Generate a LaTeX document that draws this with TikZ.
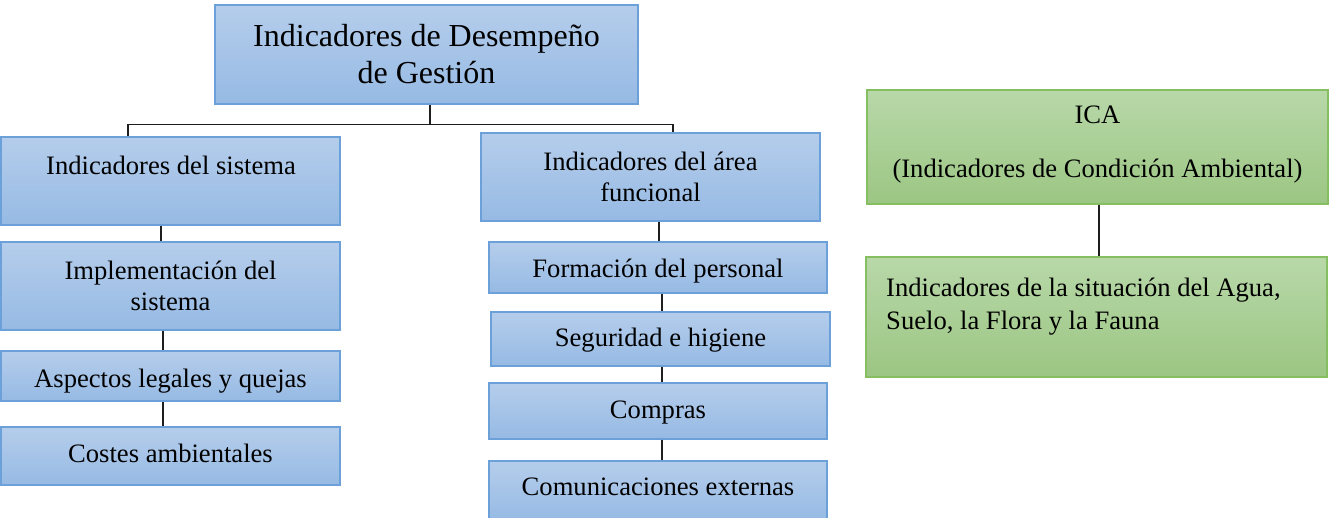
\documentclass[tikz,border=0pt]{standalone}
\usepackage{fontspec}
\setmainfont{Liberation Serif}
\definecolor{bTop}{RGB}{181,205,235}
\definecolor{bBot}{RGB}{150,186,228}
\definecolor{bLine}{RGB}{108,160,216}
\definecolor{gTop}{RGB}{184,216,169}
\definecolor{gBot}{RGB}{156,198,131}
\definecolor{gLine}{RGB}{134,190,98}
\definecolor{cLine}{RGB}{30,30,30}
\begin{document}
\begin{tikzpicture}[x=1pt,y=-1pt,
  bbox/.style={rectangle, draw=bLine, line width=1.2pt, top color=bTop, bottom color=bBot,
     inner sep=0pt, align=center, font=\fontsize{26.6}{31}\selectfont},
  gbox/.style={rectangle, draw=gLine, line width=1.2pt, top color=gTop, bottom color=gBot,
     inner sep=0pt, align=center, font=\fontsize{26.6}{31}\selectfont},
  lbl/.style={inner sep=0pt, font=\fontsize{26.6}{33}\selectfont},
  conn/.style={draw=cLine, line width=1.3pt}]
\useasboundingbox (0,0) rectangle (1330,518);
% blue boxes
\node[bbox, minimum width=423pt, minimum height=99pt, font=\fontsize{32}{37}\selectfont] (top) at (426.5,54.5)
  {Indicadores de Desempeño\\de Gestión};
\node[bbox, minimum width=339pt, minimum height=88pt] (sys) at (170.5,181) {};
\node[lbl] (sysT) at (171,165) {Indicadores del sistema};
\node[bbox, minimum width=339pt, minimum height=88pt] (area) at (650.5,177) {Indicadores del área\\funcional};
\node[bbox, minimum width=339pt, minimum height=88pt] (impl) at (170.5,286) {Implementación del\\sistema};
\node[bbox, minimum width=339pt, minimum height=50pt] (asp) at (170.5,376) {};
\node[lbl] (aspT) at (170.5,381) {Aspectos legales y quejas};
\node[bbox, minimum width=339pt, minimum height=58pt] (cost) at (170.5,456) {};
\node[lbl] (costT) at (170.5,453) {Costes ambientales};
\node[bbox, minimum width=338pt, minimum height=51pt] (form) at (658,267.5) {};
\node[lbl] (formT) at (658,271.5) {Formación del personal};
\node[bbox, minimum width=339pt, minimum height=54pt] (seg) at (660.5,339) {};
\node[lbl] (segT) at (660.5,340) {Seguridad e higiene};
\node[bbox, minimum width=338pt, minimum height=56pt] (comp) at (658,411) {};
\node[lbl] (compT) at (658,413) {Compras};
\node[bbox, minimum width=338pt, minimum height=60pt] (com) at (658,491) {};
\node[lbl] (comT) at (658,487) {Comunicaciones externas};
% green boxes
\node[gbox, minimum width=461pt, minimum height=114pt] (ica) at (1097.5,147) {};
\node[lbl] (icaT1) at (1097.5,115) {ICA};
\node[lbl] (icaT2) at (1097.5,171) {(Indicadores de Condición Ambiental)};
\node[gbox, minimum width=461pt, minimum height=120pt] (env) at (1096.5,317) {};
\node[lbl, anchor=west, align=left] (envT) at (886,306.5)
  {Indicadores de la situación del Agua,\\Suelo, la Flora y la Fauna};
% connectors
\draw[conn] ([xshift=3.5pt]top.south) -- ++(0,20) coordinate (j)
  (j) -| ([xshift=-42.5pt]sys.north);
\draw[conn] (j) -| ([xshift=22.5pt]area.north);
\draw[conn] ([xshift=-9.5pt]sys.south) -- ([xshift=-9.5pt]impl.north);
\draw[conn] ([xshift=-7.5pt]impl.south) -- ([xshift=-7.5pt]asp.north);
\draw[conn] ([xshift=-7.5pt]asp.south) -- ([xshift=-7.5pt]cost.north);
\draw[conn] ([xshift=1pt]form.north |- area.south) -- ([xshift=1pt]form.north);
\draw[conn] ([xshift=4pt]form.south) -- ([xshift=4pt]form.south |- seg.north);
\draw[conn] ([xshift=4pt]comp.north |- seg.south) -- ([xshift=4pt]comp.north);
\draw[conn] ([xshift=4pt]comp.south) -- ([xshift=4pt]com.north);
\draw[conn] ([xshift=1.5pt]ica.south) -- ([xshift=1.5pt]ica.south |- env.north);
\end{tikzpicture}
\end{document}
